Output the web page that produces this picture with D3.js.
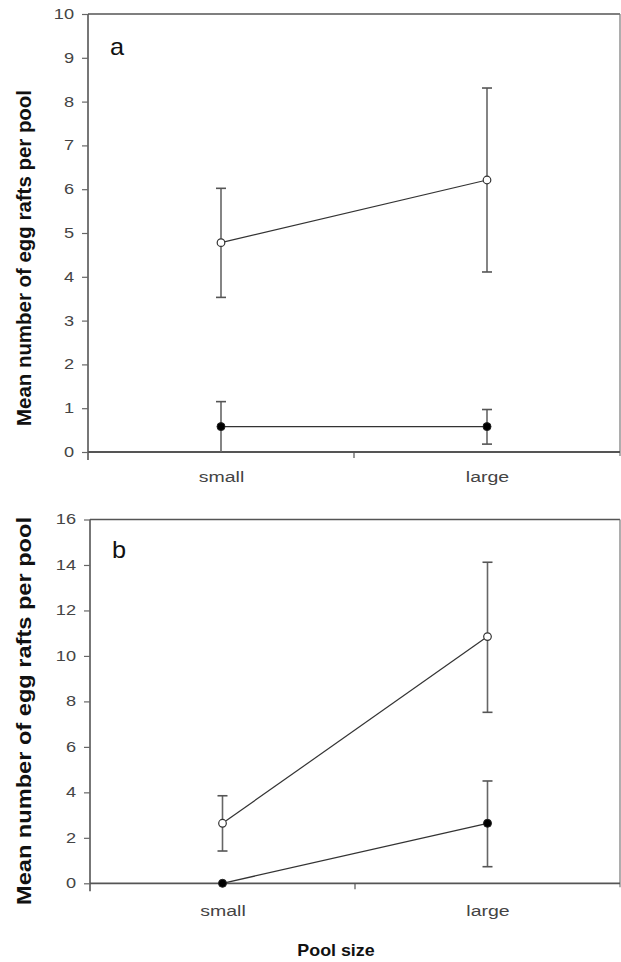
<!DOCTYPE html>
<html>
<head>
<meta charset="utf-8">
<script src="https://cdn.jsdelivr.net/npm/d3@7"></script>
<style>
  html, body { margin: 0; padding: 0; background: #fff; }
  svg { display: block; }
  text { font-family: "Liberation Sans", Arial, sans-serif; }
</style>
</head>
<body>
<svg id="chart" width="621" height="962"></svg>
<script>
// ---- data ----
const categories = ["small", "large"];

// Panel a
const aOpenMean  = [4.78, 6.21];
const aOpenUpper = [6.02, 8.31];
const aOpenLower = [3.53, 4.11];
const aFilledMean  = [0.58, 0.58];
const aFilledUpper = [1.15, 0.97];
const aFilledLower = [0.0, 0.18];
const aTicks = [0, 1, 2, 3, 4, 5, 6, 7, 8, 9, 10];

// Panel b
const bOpenMean  = [2.64, 10.85];
const bOpenUpper = [3.85, 14.12];
const bOpenLower = [1.42, 7.52];
const bFilledMean  = [0.0, 2.64];
const bFilledUpper = [null, 4.5];
const bFilledLower = [null, 0.73];
const bTicks = [0, 2, 4, 6, 8, 10, 12, 14, 16];

const yLabel = "Mean number of egg rafts per pool";
const xLabel = "Pool size";

// ---- drawing ----
const svg = d3.select("#chart");
const SX = 1.3; // horizontal stretch of the reference's glyphs

function panel(cfg) {
  const g = svg.append("g");
  const x = d3.scalePoint().domain(categories).range([cfg.left, cfg.right]).padding(0.5);
  const y = d3.scaleLinear().domain([0, cfg.max]).range([cfg.bottom, cfg.top]);

  // frame: top and right lines
  g.append("line").attr("x1", cfg.left).attr("x2", cfg.right)
    .attr("y1", cfg.top).attr("y2", cfg.top)
    .attr("stroke", "#555").attr("stroke-width", 1.6);
  g.append("line").attr("x1", cfg.right).attr("x2", cfg.right)
    .attr("y1", cfg.top).attr("y2", cfg.bottom + 4)
    .attr("stroke", "#777").attr("stroke-width", 1.2);

  // y axis
  const yAxis = d3.axisLeft(y).tickValues(cfg.ticks).tickSize(6).tickPadding(4)
    .tickFormat(d3.format("d"));
  const ya = g.append("g").attr("transform", `translate(${cfg.left},0)`).call(yAxis);
  ya.select(".domain").attr("stroke", "#555").attr("stroke-width", 1.6)
    .attr("d", `M0,${cfg.top}V${cfg.bottom + 8}`);
  ya.selectAll(".tick line").attr("stroke", "#666").attr("stroke-width", 1.2);
  ya.selectAll(".tick text").attr("fill", "#444").style("font-size", "14px")
    .attr("x", 0).attr("transform", `translate(${cfg.yLabOff},0) scale(${SX},1)`);

  // x axis
  const xa = g.append("g").attr("transform", `translate(0,${cfg.bottom})`)
    .call(d3.axisBottom(x).tickSize(0).tickPadding(cfg.xPad));
  xa.select(".domain").attr("stroke", "#555").attr("stroke-width", 1.8)
    .attr("d", `M${cfg.left},0H${cfg.right}`);
  xa.selectAll(".tick text").attr("fill", "#444").style("font-size", "15px")
    .attr("transform", `scale(${SX},1)`);
  // middle tick
  const mid = (x(categories[0]) + x(categories[1])) / 2;
  g.append("line").attr("x1", mid).attr("x2", mid)
    .attr("y1", cfg.bottom).attr("y2", cfg.bottom + 6)
    .attr("stroke", "#555").attr("stroke-width", 1.2);

  // error bars
  function errBars(mean, up, lo) {
    categories.forEach((c, i) => {
      const cx = x(c);
      if (up[i] !== null && up[i] !== undefined) {
        g.append("line").attr("x1", cx).attr("x2", cx)
          .attr("y1", y(mean[i])).attr("y2", y(up[i]))
          .attr("stroke", "#666").attr("stroke-width", 1.6);
        g.append("line").attr("x1", cx - 5).attr("x2", cx + 5)
          .attr("y1", y(up[i])).attr("y2", y(up[i]))
          .attr("stroke", "#555").attr("stroke-width", 1.6);
      }
      if (lo[i] !== null && lo[i] !== undefined) {
        g.append("line").attr("x1", cx).attr("x2", cx)
          .attr("y1", y(mean[i])).attr("y2", y(lo[i]))
          .attr("stroke", "#666").attr("stroke-width", 1.6);
        if (lo[i] > 0) {
          g.append("line").attr("x1", cx - 5).attr("x2", cx + 5)
            .attr("y1", y(lo[i])).attr("y2", y(lo[i]))
            .attr("stroke", "#555").attr("stroke-width", 1.6);
        }
      }
    });
  }
  errBars(cfg.openMean, cfg.openUp, cfg.openLo);
  errBars(cfg.filledMean, cfg.filledUp, cfg.filledLo);

  const line = d3.line().x((d, i) => x(categories[i])).y(d => y(d));
  g.append("path").datum(cfg.openMean).attr("d", line)
    .attr("fill", "none").attr("stroke", "#333").attr("stroke-width", 1.2);
  g.append("path").datum(cfg.filledMean).attr("d", line)
    .attr("fill", "none").attr("stroke", "#333").attr("stroke-width", 1.3);

  g.selectAll(".open").data(cfg.openMean).enter().append("circle")
    .attr("cx", (d, i) => x(categories[i])).attr("cy", d => y(d)).attr("r", 3.8)
    .attr("fill", "#fff").attr("stroke", "#333").attr("stroke-width", 1.2);
  g.selectAll(".filled").data(cfg.filledMean).enter().append("circle")
    .attr("cx", (d, i) => x(categories[i])).attr("cy", d => y(d)).attr("r", 4)
    .attr("fill", "#000").attr("stroke", "#222").attr("stroke-width", 1);

  // panel letter
  g.append("text")
    .attr("transform", `translate(${cfg.left + 22},${cfg.letterY}) scale(1.1,1)`)
    .style("font-size", "23px").attr("fill", "#111").text(cfg.letter);

  // y label
  const cy = cfg.labelCenter;
  g.append("text")
    .attr("transform", `translate(31,${cy}) scale(${SX},1) rotate(-90)`)
    .attr("text-anchor", "middle")
    .attr("textLength", cfg.labelLen).attr("lengthAdjust", "spacingAndGlyphs")
    .style("font-size", "15px").style("font-weight", "bold").attr("fill", "#111")
    .text(yLabel);
}

panel({
  left: 88, right: 620, top: 14, bottom: 452, max: 10, ticks: aTicks,
  openMean: aOpenMean, openUp: aOpenUpper, openLo: aOpenLower,
  filledMean: aFilledMean, filledUp: aFilledUpper, filledLo: aFilledLower,
  letter: "a", letterY: 55, labelCenter: 258, labelLen: 336, xPad: 19, yLabOff: -14
});

panel({
  left: 90, right: 620, top: 519.5, bottom: 883.3, max: 16, ticks: bTicks,
  openMean: bOpenMean, openUp: bOpenUpper, openLo: bOpenLower,
  filledMean: bFilledMean, filledUp: bFilledUpper, filledLo: bFilledLower,
  letter: "b", letterY: 558, labelCenter: 711, labelLen: 388, xPad: 22, yLabOff: -14
});

svg.append("text").attr("transform", "translate(336,956) scale(1.05,1)")
  .attr("text-anchor", "middle")
  .style("font-size", "17px").style("font-weight", "bold").attr("fill", "#111")
  .text(xLabel);
</script>
</body>
</html>
